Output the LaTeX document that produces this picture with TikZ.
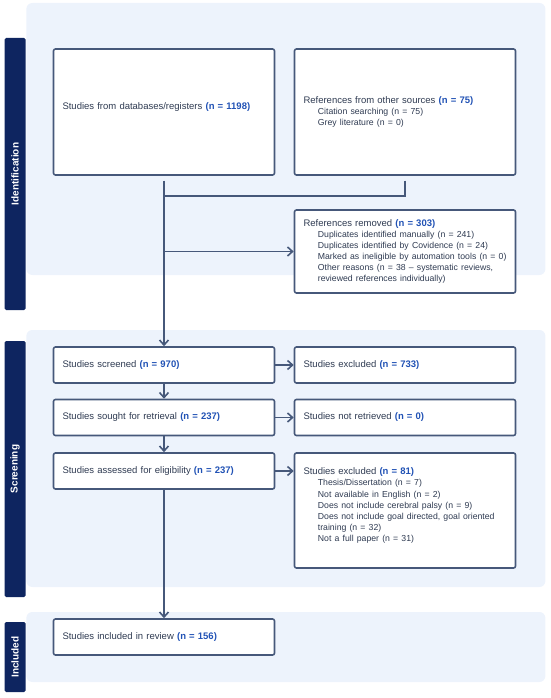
\documentclass[tikz,border=0pt]{standalone}
\usepackage{fontspec}
\setmainfont{Liberation Sans}
\usetikzlibrary{arrows.meta}

\definecolor{panelbg}{HTML}{EDF3FC}
\definecolor{barnavy}{HTML}{0E2560}
\definecolor{boxline}{HTML}{46587A}
\definecolor{nblue}{HTML}{2152B5}
\definecolor{bodytext}{HTML}{2F3B52}

\newcommand{\nval}[1]{{\color{nblue}\bfseries(n = #1)}}
\newcommand{\indline}[1]{\hspace*{14.4pt}\mbox{\fontsize{8.7}{11.1}\selectfont #1}}

\tikzset{
  panel/.style={fill=panelbg, rounded corners=6},
  stagebar/.style={fill=barnavy, rounded corners=1.5, rotate=90, minimum height=21, inner sep=0pt,
    text=white, font=\fontsize{10}{11}\selectfont\bfseries},
  flowbox/.style={draw=boxline, line width=1.6, rounded corners=2, fill=white,
    minimum width=221, minimum height=36, text width=203, inner xsep=9, inner ysep=4,
    align=left, text=bodytext, font=\fontsize{9.5}{11.1}\selectfont},
  flowline/.style={draw=boxline, line width=1.6},
  flowarrow/.style={flowline, -{Straight Barb[length=5pt, width=9pt]}}
}

\begin{document}
\begin{tikzpicture}[x=1pt, y=-1pt]
		\useasboundingbox (0,0) rectangle (550,698);

		% stage panels
		\fill[panel] (26.3,3) rectangle (545.4,275);
		\fill[panel] (26.3,330) rectangle (545.4,587);
		\fill[panel] (26.3,612) rectangle (545.4,682);

		\node[stagebar, minimum width=272] (idbar) at (15.1,174) {Identification};
		\node[stagebar, minimum width=256] (scbar) at (15.1,469) {Screening};
		\node[stagebar, minimum width=70] (inbar) at (15.1,657) {Included};

		% boxes
		\node[flowbox, minimum height=126] (db) at (164,112) {Studies from databases/registers \nval{1198}\\\mbox{}};
		\node[flowbox, minimum height=126] (other) at (405,112) {References from other sources \nval{75}\\
			\indline{Citation searching (n = 75)}\\
			\indline{Grey literature (n = 0)}};
		\node[flowbox, minimum height=83] (removed) at (405,251.5) {References removed \nval{303}\\
			\indline{Duplicates identified manually (n = 241)}\\
			\indline{Duplicates identified by Covidence (n = 24)}\\
			\indline{Marked as ineligible by automation tools (n = 0)}\\
			\indline{Other reasons (n = 38 -- systematic reviews,}\\
			\indline{reviewed references individually)}};
		\node[flowbox] (screened) at (164,365) {Studies screened \nval{970}};
		\node[flowbox] (excl1) at (405,365) {Studies excluded \nval{733}};
		\node[flowbox] (sought) at (164,417.5) {Studies sought for retrieval \nval{237}};
		\node[flowbox] (notret) at (405,417.5) {Studies not retrieved \nval{0}};
		\node[flowbox] (assessed) at (164,471) {Studies assessed for eligibility \nval{237}};
		\node[flowbox, minimum height=115] (excl2) at (405,510.5) {\parbox[c][107pt][t]{203pt}{\vspace*{11pt}Studies excluded \nval{81}\\
			\indline{Thesis/Dissertation (n = 7)}\\
			\indline{Not available in English (n = 2)}\\
			\indline{Does not include cerebral palsy (n = 9)}\\
			\indline{Does not include goal directed, goal oriented}\\
			\indline{training (n = 32)}\\
			\indline{Not a full paper (n = 31)}}};
		\node[flowbox] (incl) at (164,637) {Studies included in review \nval{156}};

		% connectors
		\coordinate (dbout) at (164,180.5);
		\coordinate (otherout) at (405,180.5);
		\coordinate (join) at (164,196);

		\draw[flowline] (otherout) |- (join);
		\draw[flowarrow] (dbout) -- (screened.north);
		\draw[flowarrow] (dbout |- removed.west) -- (removed.west);
		\draw[flowarrow] (screened.east) -- (excl1.west);
		\draw[flowarrow] (screened.south) -- (sought.north);
		\draw[flowarrow] (sought.east) -- (notret.west);
		\draw[flowarrow] (sought.south) -- (assessed.north);
		\draw[flowarrow] (assessed.east) -- (excl2.west |- assessed.east);
		\draw[flowarrow] (assessed.south) -- (incl.north);
	\end{tikzpicture}
\end{document}
